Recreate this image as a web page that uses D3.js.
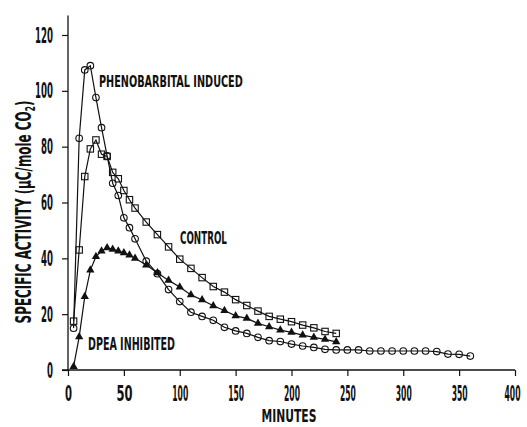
<!DOCTYPE html>
<html>
<head>
<meta charset="utf-8">
<script src="https://cdn.jsdelivr.net/npm/d3@7"></script>
<style>
  body { margin: 0; background: #fff; }
  svg text { font-family: "DejaVu Sans Condensed", "Liberation Sans Narrow", "DejaVu Sans", sans-serif; font-weight: bold; font-stretch: condensed; fill: #111; }
</style>
</head>
<body>
<div id="chart"></div>
<script>
// minutes after dosing
const phenoTimes = [5, 10, 15, 20, 25, 30, 35, 40, 45, 50, 55, 60, 70, 80, 90, 100, 110, 120, 130, 140, 150, 160, 170, 180, 190, 200, 210, 220, 230, 240, 250, 260, 270, 280, 290, 300, 310, 320, 330, 340, 350, 360];
const phenoValues = [15, 83, 107.5, 109, 97.6, 86.8, 76.7, 66.9, 62.5, 54.5, 51, 47, 39, 34.5, 28.8, 24.5, 20.7, 19.2, 17.8, 15.3, 14, 13.1, 11.7, 10.5, 10.2, 9.3, 8.6, 8.1, 7.4, 7.2, 7.2, 7.2, 6.8, 6.8, 6.8, 6.8, 6.8, 6.8, 6.6, 5.7, 5.6, 5.0];

const controlTimes = [5, 10, 15, 20, 25, 30, 35, 40, 45, 50, 55, 60, 70, 80, 90, 100, 110, 120, 130, 140, 150, 160, 170, 180, 190, 200, 210, 220, 230, 240];
const controlValues = [17.5, 43, 69.3, 79.2, 82.4, 77.3, 76.5, 70.8, 68.5, 64.3, 61, 58, 53, 48.5, 44.1, 39.7, 36.4, 33.1, 29.9, 27.9, 25.2, 23.1, 21.1, 19.2, 18.2, 17.3, 16.1, 15.1, 13.8, 13.1];

const dpeaTimes = [5, 10, 15, 20, 25, 30, 35, 40, 45, 50, 55, 60, 70, 80, 90, 100, 110, 120, 130, 140, 150, 160, 170, 180, 190, 200, 210, 220, 230, 240];
const dpeaValues = [1.2, 11.9, 26.3, 35.8, 40.6, 42.6, 43.8, 43.2, 42.6, 42, 41.2, 40, 37.6, 34.8, 32.1, 29.7, 26.9, 25.1, 23, 21.3, 19.4, 18.5, 16.7, 15.5, 14.3, 13.5, 12.5, 11.7, 11, 10.1];

const xTicks = [0, 50, 100, 150, 200, 250, 300, 350, 400];
const yTicks = [0, 20, 40, 60, 80, 100, 120];

const width = 527, height = 427;
const svg = d3.select("#chart").append("svg")
    .attr("width", width)
    .attr("height", height);

const x = d3.scaleLinear().domain([0, 400]).range([68, 515]);
const y = d3.scaleLinear().domain([0, 120]).range([370, 35]);

// the print uses a tall, very narrow type: squeeze each text horizontally to its width
function squeeze(sel, target) {
    sel.each(function (d) {
        const w = this.getComputedTextLength();
        const s = (typeof target === "function" ? target(d) : target) / w;
        const tx = +this.getAttribute("x") || 0, ty = +this.getAttribute("y") || 0;
        const prev = this.getAttribute("transform") || "";
        this.setAttribute("x", 0);
        this.setAttribute("y", 0);
        this.setAttribute("transform", `${prev} translate(${tx},${ty}) scale(${s},1)`);
    });
}

// axes
const xAxis = svg.append("g")
    .attr("transform", `translate(0, ${y(0)})`)
    .call(d3.axisBottom(x).tickValues(xTicks).tickSize(6).tickSizeOuter(0));
xAxis.select(".domain").remove();
xAxis.append("line")
    .attr("x1", 62).attr("x2", x(400))
    .attr("stroke", "#111").attr("stroke-width", 1.3);
xAxis.selectAll(".tick line").attr("stroke", "#111").attr("stroke-width", 1.2);
xAxis.selectAll("text")
    .attr("y", 31).attr("dy", null)
    .style("font-size", "21px");
xAxis.selectAll(".tick").filter(d => d === 400).select("text").attr("x", -3);
squeeze(xAxis.selectAll("text"), d => String(d).length === 1 ? 7 : 16);

const yAxis = svg.append("g")
    .attr("transform", `translate(${x(0)}, 0)`)
    .call(d3.axisLeft(y).tickValues(yTicks).tickSize(6).tickSizeOuter(0).tickPadding(9));
yAxis.select(".domain").remove();
yAxis.append("line")
    .attr("y1", y(0)).attr("y2", y(127))
    .attr("stroke", "#111").attr("stroke-width", 1.3);
yAxis.selectAll(".tick line").attr("stroke", "#111").attr("stroke-width", 1.2);
yAxis.selectAll("text").style("font-size", "22px");
squeeze(yAxis.selectAll("text"), d => String(d).length * 6);

// axis titles
const xTitle = svg.append("text")
    .attr("x", 289).attr("y", 422)
    .attr("text-anchor", "middle")
    .style("font-size", "17px")
    .text("MINUTES");
squeeze(xTitle, 55);

const yTitle = svg.append("text")
    .attr("transform", "translate(31, 212) rotate(-90)")
    .attr("text-anchor", "middle")
    .style("font-size", "22px");
yTitle.append("tspan").text("SPECIFIC ACTIVITY (µC/mole CO");
yTitle.append("tspan").attr("dy", 4).style("font-size", "14px").text("2");
yTitle.append("tspan").attr("dy", -4).text(")");
squeeze(yTitle, 223);

// series
const line = d3.line().x(d => x(d[0])).y(d => y(d[1]));
function pts(ts, vs) { return ts.map((t, i) => [t, vs[i]]); }

const pheno = pts(phenoTimes, phenoValues);
const control = pts(controlTimes, controlValues);
const dpea = pts(dpeaTimes, dpeaValues);

[pheno, control, dpea].forEach(s => {
    svg.append("path")
        .datum(s)
        .attr("d", line)
        .attr("fill", "none")
        .attr("stroke", "#111")
        .attr("stroke-width", 1.2);
});

// phenobarbital: open circles
svg.append("g").selectAll("circle")
    .data(pheno)
    .join("circle")
    .attr("cx", d => x(d[0]))
    .attr("cy", d => y(d[1]))
    .attr("r", 3.3)
    .attr("fill", "none")
    .attr("stroke", "#111")
    .attr("stroke-width", 1.1);

// control: open squares
svg.append("g").selectAll("rect")
    .data(control)
    .join("rect")
    .attr("x", d => x(d[0]) - 3.2)
    .attr("y", d => y(d[1]) - 3.2)
    .attr("width", 6.4)
    .attr("height", 6.4)
    .attr("fill", "none")
    .attr("stroke", "#111")
    .attr("stroke-width", 1.1);

// dpea: filled triangles
const tri = d3.symbol().type(d3.symbolTriangle).size(30);
svg.append("g").selectAll("path")
    .data(dpea)
    .join("path")
    .attr("d", tri)
    .attr("transform", d => `translate(${x(d[0])}, ${y(d[1])})`)
    .attr("fill", "#111");

// curve labels
squeeze(svg.append("text")
    .attr("x", 99).attr("y", 87)
    .style("font-size", "15px")
    .text("PHENOBARBITAL INDUCED"), 144);

squeeze(svg.append("text")
    .attr("x", 180).attr("y", 244)
    .style("font-size", "17px")
    .text("CONTROL"), 47);

squeeze(svg.append("text")
    .attr("x", 88).attr("y", 350)
    .style("font-size", "17px")
    .text("DPEA INHIBITED"), 87);
</script>
</body>
</html>
